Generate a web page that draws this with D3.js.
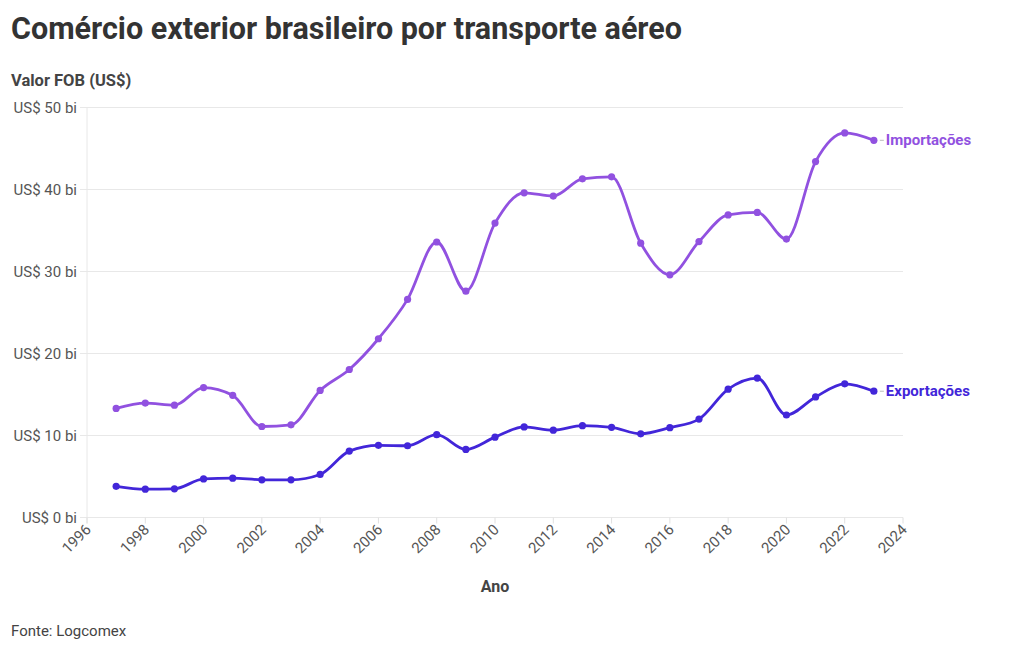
<!DOCTYPE html>
<html><head><meta charset="utf-8">
<script src="https://cdn.jsdelivr.net/npm/d3@7"></script>
<style>
body{margin:0;background:#fff;}
text{font-family:Roboto,"Noto Sans",sans-serif;}
</style></head>
<body><svg id="c" width="1020" height="650"></svg>
<script>
const years = [1997,1998,1999,2000,2001,2002,2003,2004,2005,2006,2007,2008,2009,2010,2011,2012,2013,2014,2015,2016,2017,2018,2019,2020,2021,2022,2023];
const importacoes = [13.3,13.95,13.7,15.85,14.9,11.1,11.3,15.5,18.05,21.8,26.6,33.6,27.6,35.9,39.6,39.2,41.3,41.55,33.45,29.6,33.65,36.9,37.2,33.95,43.4,46.9,46.0];
const exportacoes = [3.8,3.45,3.5,4.7,4.8,4.6,4.6,5.25,8.1,8.8,8.75,10.1,8.3,9.8,11.05,10.65,11.2,11.0,10.2,10.95,12.0,15.65,17.0,12.5,14.7,16.3,15.4];
const xTicks = [1996,1998,2000,2002,2004,2006,2008,2010,2012,2014,2016,2018,2020,2022,2024];
const yTicks = [0,10,20,30,40,50];
const seriesNames = ["Importações","Exportações"];
const seriesColors = ["#9151e0","#4226d9"];

const svg = d3.select("#c");
const x = d3.scaleLinear().domain([1996,2024]).range([87,903]);
const y = d3.scaleLinear().domain([0,50]).range([517.5,107.5]);

svg.append("text").attr("x",11).attr("y",39).attr("font-size",30.5).attr("font-weight",700).attr("fill","#333").text("Comércio exterior brasileiro por transporte aéreo");
svg.append("text").attr("x",11).attr("y",86).attr("font-size",16.5).attr("font-weight",700).attr("fill","#444").text("Valor FOB (US$)");

// grid
const g = svg.append("g");
g.selectAll("line.grid").data(yTicks).join("line")
 .attr("x1",80).attr("x2",903).attr("y1",d=>y(d)).attr("y2",d=>y(d))
 .attr("stroke","#e8e8e8").attr("stroke-width",1);
g.append("line").attr("x1",87).attr("x2",87).attr("y1",y(50)).attr("y2",y(0)+6).attr("stroke","#e8e8e8");
g.selectAll("text.yt").data(yTicks).join("text")
 .attr("x",77).attr("y",d=>y(d)+5).attr("text-anchor","end").attr("font-size",15).attr("fill","#555")
 .text(d=>"US$ "+d+" bi");

// x axis
g.selectAll("line.xt").data(xTicks).join("line")
 .attr("x1",d=>x(d)).attr("x2",d=>x(d)).attr("y1",y(0)).attr("y2",y(0)+6).attr("stroke","#e0e0e0");
g.selectAll("text.xl").data(xTicks).join("text")
 .attr("transform",d=>`translate(${x(d)+5},${y(0)+13}) rotate(-45)`)
 .attr("text-anchor","end").attr("font-size",15).attr("fill","#555").text(d=>d);
svg.append("text").attr("x",495).attr("y",592).attr("text-anchor","middle").attr("font-size",16).attr("font-weight",700).attr("fill","#444").text("Ano");
svg.append("text").attr("x",11).attr("y",636).attr("font-size",15).attr("fill","#444").text("Fonte: Logcomex");

const series = [importacoes, exportacoes];
const line = d3.line().x((d,i)=>x(years[i])).y(d=>y(d)).curve(d3.curveMonotoneX);
series.forEach((vals,si)=>{
  const col = seriesColors[si];
  svg.append("path").datum(vals).attr("d",line).attr("fill","none").attr("stroke",col).attr("stroke-width",2.8);
  svg.selectAll(null).data(vals).join("circle").attr("cx",(d,i)=>x(years[i])).attr("cy",d=>y(d)).attr("r",3.6).attr("fill",col);
  const last = vals[vals.length-1];
  const lx = x(years[years.length-1]);
  svg.append("line").attr("x1",lx+6).attr("x2",lx+10).attr("y1",y(last)).attr("y2",y(last)).attr("stroke","#bbb");
  svg.append("text").attr("x",lx+12).attr("y",y(last)+5).attr("font-size",15).attr("font-weight",700).attr("fill",col).text(seriesNames[si]);
});
</script></body></html>
